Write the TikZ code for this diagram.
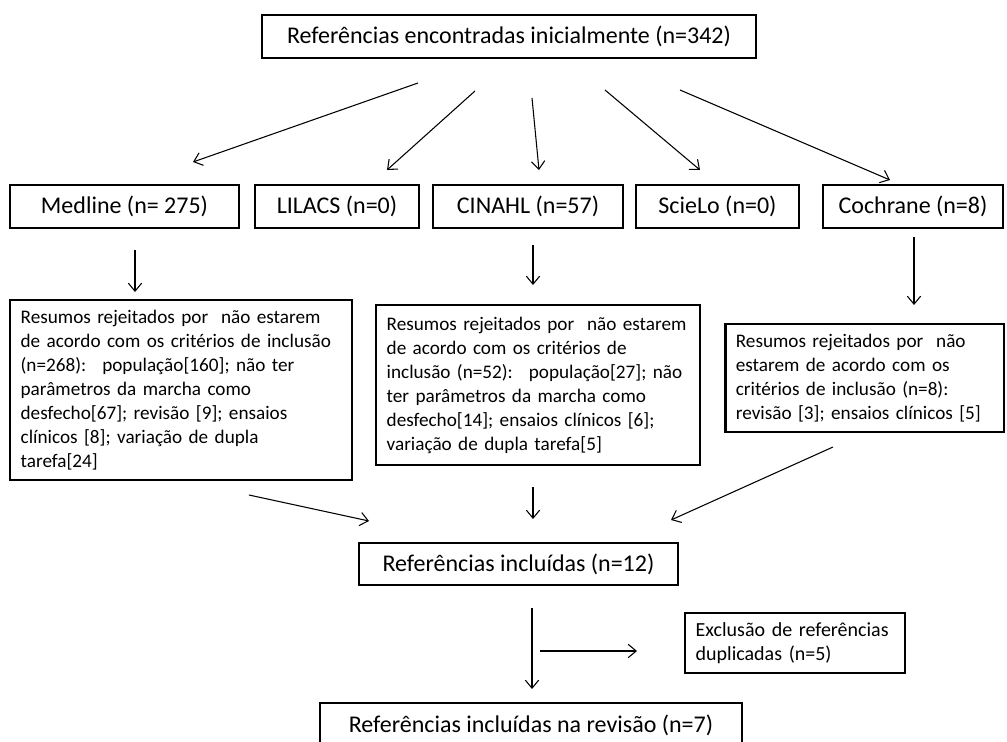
\documentclass[tikz,border=0pt]{standalone}
\usepackage{fontspec}
\setmainfont{Carlito}
\usetikzlibrary{arrows.meta}
\hyphenpenalty=10000
\tikzset{
  box/.style = {draw, line width=2pt, inner sep=0pt, align=center, font=\fontsize{18}{21.6}\selectfont},
  notebox/.style = {draw, line width=2pt, inner xsep=8pt, inner ysep=0pt, align=left, font=\fontsize{14.4}{18}\selectfont},
  arr/.style = {-{Straight Barb[length=6pt,width=10pt]}, line width=0.8pt}
}

\begin{document}
\begin{tikzpicture}[x=0.75pt, y=-0.75pt]
  \useasboundingbox (0,0) rectangle (1007,742);
  \node[box, minimum width=370.5pt, minimum height=32.25pt] (ref) at (509,36.5) {Referências encontradas inicialmente (n=342)};
  \node[box, minimum width=171.75pt, minimum height=32.25pt] (medline) at (124.5,206.5) {Medline (n= 275)};
  \node[box, minimum width=123pt, minimum height=32.25pt] (lilacs) at (337,206.5) {LILACS (n=0)};
  \node[box, minimum width=142.5pt, minimum height=32.25pt] (cinahl) at (528,206.5) {CINAHL (n=57)};
  \node[box, minimum width=122.25pt, minimum height=32.25pt] (scielo) at (717.5,206.5) {ScieLo (n=0)};
  \node[box, minimum width=135pt, minimum height=32.25pt] (cochrane) at (913,206.5) {Cochrane (n=8)};
  \node[notebox, text width=240.5pt, minimum height=135pt] (resmed) at (181,390)
    {Resumos rejeitados por ~não estarem\\ de acordo com os critérios de inclusão\\ (n=268): ~população[160]; não ter\\ parâmetros da marcha como\\ desfecho[67]; revisão [9]; ensaios\\ clínicos [8]; variação de dupla\\ tarefa[24]};
  \node[notebox, text width=227pt, minimum height=120pt] (rescin) at (538,385)
    {Resumos rejeitados por ~não estarem\\ de acordo com os critérios de\\ inclusão (n=52): ~população[27]; não\\ ter parâmetros da marcha como\\ desfecho[14]; ensaios clínicos [6];\\ variação de dupla tarefa[5]};
  \node[notebox, text width=193pt, minimum height=81pt] (rescoc) at (864.5,378)
    {Resumos rejeitados por ~não\\ estarem de acordo com os\\ critérios de inclusão (n=8):\\ revisão [3]; ensaios clínicos [5]};
  \node[box, minimum width=239.25pt, minimum height=31.5pt] (incl) at (518.5,564) {Referências incluídas (n=12)};
  \node[notebox, font=\fontsize{15}{18}\selectfont, text width=149pt, minimum height=45pt] (excl) at (795,643) {Exclusão de referências\\ duplicadas (n=5)};
  \node[box, minimum width=316.5pt, minimum height=33pt] (final) at (531,725) {Referências incluídas na revisão (n=7)};

  % free ends of the arrows
  \coordinate (r1) at (418,83);  \coordinate (m1) at (193,162);
  \coordinate (r2) at (475,91);  \coordinate (l2) at (387,170);
  \coordinate (r3) at (532,98);  \coordinate (c3) at (539,170);
  \coordinate (r4) at (605,90);  \coordinate (s4) at (700,170);
  \coordinate (r5) at (680,90);  \coordinate (k5) at (890,180);
  \coordinate (md) at (135,250); \coordinate (mr) at (135,292);
  \coordinate (cd) at (533,245); \coordinate (cr) at (533,285);
  \coordinate (kd) at (914,237); \coordinate (kr) at (914,305);
  \coordinate (ma) at (249,495); \coordinate (mi) at (369,521);
  \coordinate (ca) at (533,487); \coordinate (ci) at (533,519);
  \coordinate (ka) at (833,447); \coordinate (ki) at (671,520);
  \coordinate (id) at (532,608); \coordinate (if) at (532,689);
  \coordinate (ix) at (540,651); \coordinate (ex) at (637,651);

  \draw[arr] (r1) -- (m1);
  \draw[arr] (r2) -- (l2);
  \draw[arr] (r3) -- (c3);
  \draw[arr] (r4) -- (s4);
  \draw[arr] (r5) -- (k5);
  \draw[arr] (md) -- (mr);
  \draw[arr] (cd) -- (cr);
  \draw[arr] (kd) -- (kr);
  \draw[arr] (ma) -- (mi);
  \draw[arr] (ca) -- (ci);
  \draw[arr] (ka) -- (ki);
  \draw[arr] (id) -- (if);
  \draw[arr] (ix) -- (ex);
\end{tikzpicture}
\end{document}
